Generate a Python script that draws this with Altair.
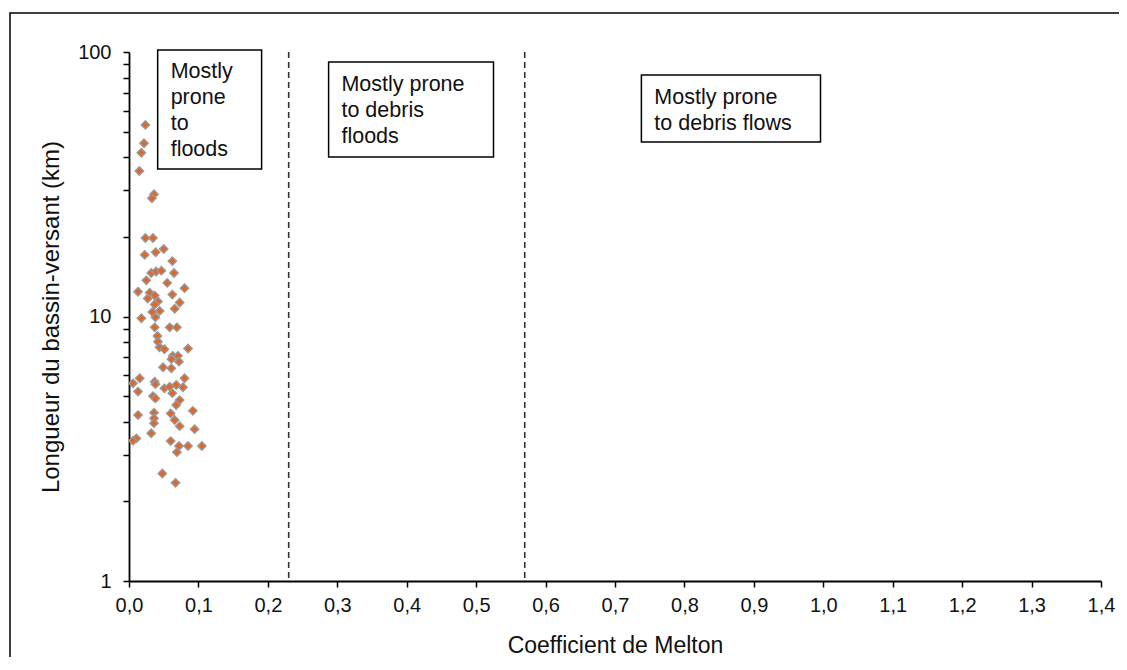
import altair as alt
import pandas as pd

# Scatter data (Coefficient de Melton, Longueur du bassin-versant km)
melton = [0.0236, 0.0216, 0.0178, 0.015, 0.036, 0.033, 0.0236, 0.0345, 0.0226, 0.0384,
          0.050, 0.0624, 0.032, 0.039, 0.0466, 0.0648, 0.025, 0.055, 0.080, 0.013,
          0.0298, 0.0624, 0.027, 0.037, 0.0417, 0.073, 0.037, 0.0658, 0.0337, 0.0442,
          0.0178, 0.038, 0.037, 0.0586, 0.069, 0.041, 0.0417, 0.044, 0.051, 0.085,
          0.063, 0.0705, 0.072, 0.061, 0.049, 0.061, 0.080, 0.0154, 0.0058, 0.037,
          0.038, 0.051, 0.0586, 0.068, 0.0777, 0.013, 0.0624, 0.0345, 0.038, 0.073,
          0.068, 0.092, 0.013, 0.036, 0.060, 0.036, 0.0658, 0.036, 0.073, 0.0945,
          0.032, 0.0106, 0.0058, 0.060, 0.072, 0.085, 0.105, 0.069, 0.048, 0.067]
longueur = [53.0, 45.2, 41.6, 35.5, 29.0, 28.0, 19.8, 19.8, 17.1, 17.5,
            18.0, 16.2, 14.6, 14.8, 14.9, 14.6, 13.7, 13.4, 12.8, 12.4,
            12.3, 12.1, 11.7, 12.0, 11.4, 11.3, 11.1, 10.7, 10.4, 10.5,
            9.85, 9.93, 9.1, 9.1, 9.1, 8.44, 8.03, 7.65, 7.52, 7.57,
            7.1, 7.1, 6.75, 6.9, 6.43, 6.37, 5.84, 5.84, 5.59, 5.67,
            5.55, 5.35, 5.43, 5.51, 5.4, 5.2, 5.13, 5.0, 4.9, 4.83,
            4.63, 4.4, 4.24, 4.33, 4.3, 4.12, 4.06, 3.95, 3.85, 3.75,
            3.62, 3.46, 3.39, 3.38, 3.24, 3.24, 3.24, 3.07, 2.55, 2.35]

# Class thresholds (dashed lines)
thresholds = [0.23, 0.57]

# Annotation boxes (data units)
box_x1 = [0.0413, 0.2875, 0.738]
box_x2 = [0.191, 0.525, 0.996]
box_y1 = [101.8, 91.7, 81.9]
box_y2 = [36.1, 40.1, 45.7]
text_x = [0.060, 0.306, 0.7567]
text_y = [92.5, 82.9, 73.8]
labels = ["Mostly\nprone\nto\nfloods", "Mostly prone\nto debris\nfloods", "Mostly prone\nto debris flows"]

x_ticks = [round(i * 0.05, 2) for i in range(29)]
y_ticks = [1, 2, 3, 4, 5, 6, 7, 8, 9, 10, 20, 30, 40, 50, 60, 70, 80, 90, 100]

FONT = "Liberation Sans"
INK = "#111111"

pts = pd.DataFrame({"melton": melton, "longueur": longueur})
thr = pd.DataFrame({"t": thresholds})
boxes = pd.DataFrame({"x1": box_x1, "x2": box_x2, "y1": box_y1, "y2": box_y2,
                      "tx": text_x, "ty": text_y, "label": labels})

xscale = alt.Scale(domain=[0, 1.4], nice=False, zero=False)
yscale = alt.Scale(type="log", domain=[1, 100], nice=False)

xaxis = alt.Axis(title="Coefficient de Melton", values=x_ticks,
                 labelExpr="abs(round(datum.value*20)) % 2 == 0 ? replace(format(datum.value, '.1f'), '.', ',') : ''",
                 grid=False, tickSize=6, labelPadding=8, titlePadding=19,
                 labelFontSize=20, titleFontSize=23, titleFontWeight="normal",
                 labelColor=INK, titleColor=INK, domainColor="#000", tickColor="#000",
                 domainWidth=1.8, tickWidth=1.5, labelFont=FONT, titleFont=FONT,
                 labelOverlap=False, labelFlush=False)
yaxis = alt.Axis(title="Longueur du bassin-versant (km)", values=y_ticks,
                 labelExpr="indexof([1,10,100], datum.value) >= 0 ? format(datum.value, 'd') : ''",
                 grid=False, tickSize=6, labelPadding=12, titlePadding=14,
                 labelFontSize=20, titleFontSize=24, titleFontWeight="normal",
                 labelColor=INK, titleColor=INK, domainColor="#000", tickColor="#000",
                 domainWidth=1.8, tickWidth=1.5, labelFont=FONT, titleFont=FONT,
                 labelOverlap=False, labelFlush=False)

frame = alt.Chart(pd.DataFrame({"d": [0]})).mark_rect(
    fill=None, stroke="#000", strokeWidth=1.5
).encode(x=alt.value(-119), x2=alt.value(1200), y=alt.value(-39), y2=alt.value(700))

rules = alt.Chart(thr).mark_rule(color="#333", strokeWidth=1.6, strokeDash=[6, 4]).encode(
    x=alt.X("t:Q", scale=xscale, axis=xaxis)
)

points = alt.Chart(pts).mark_point(
    shape="diamond", filled=True, size=70, fill="#E0662A", stroke="#999999",
    strokeWidth=1.4, opacity=1
).encode(
    x=alt.X("melton:Q", scale=xscale, axis=xaxis),
    y=alt.Y("longueur:Q", scale=yscale, axis=yaxis),
)

rects = alt.Chart(boxes).mark_rect(fill="white", stroke="#000", strokeWidth=1.5).encode(
    x=alt.X("x1:Q", scale=xscale), x2="x2:Q",
    y=alt.Y("y1:Q", scale=yscale), y2="y2:Q",
)

texts = alt.Chart(boxes).mark_text(
    align="left", baseline="top", font=FONT, fontSize=21.5, lineHeight=26,
    lineBreak="\n", color=INK
).encode(
    x=alt.X("tx:Q", scale=xscale), y=alt.Y("ty:Q", scale=yscale), text="label:N"
)

chart = alt.layer(frame, rules, points, rects, texts).properties(
    width=972, height=529,
    autosize=alt.AutoSizeParams(type="none"),
    padding={"left": 121, "top": 44, "right": 18, "bottom": 76},
).configure_view(stroke=None)

chart.save("out.html", embed_options={"renderer": "svg", "actions": False})
